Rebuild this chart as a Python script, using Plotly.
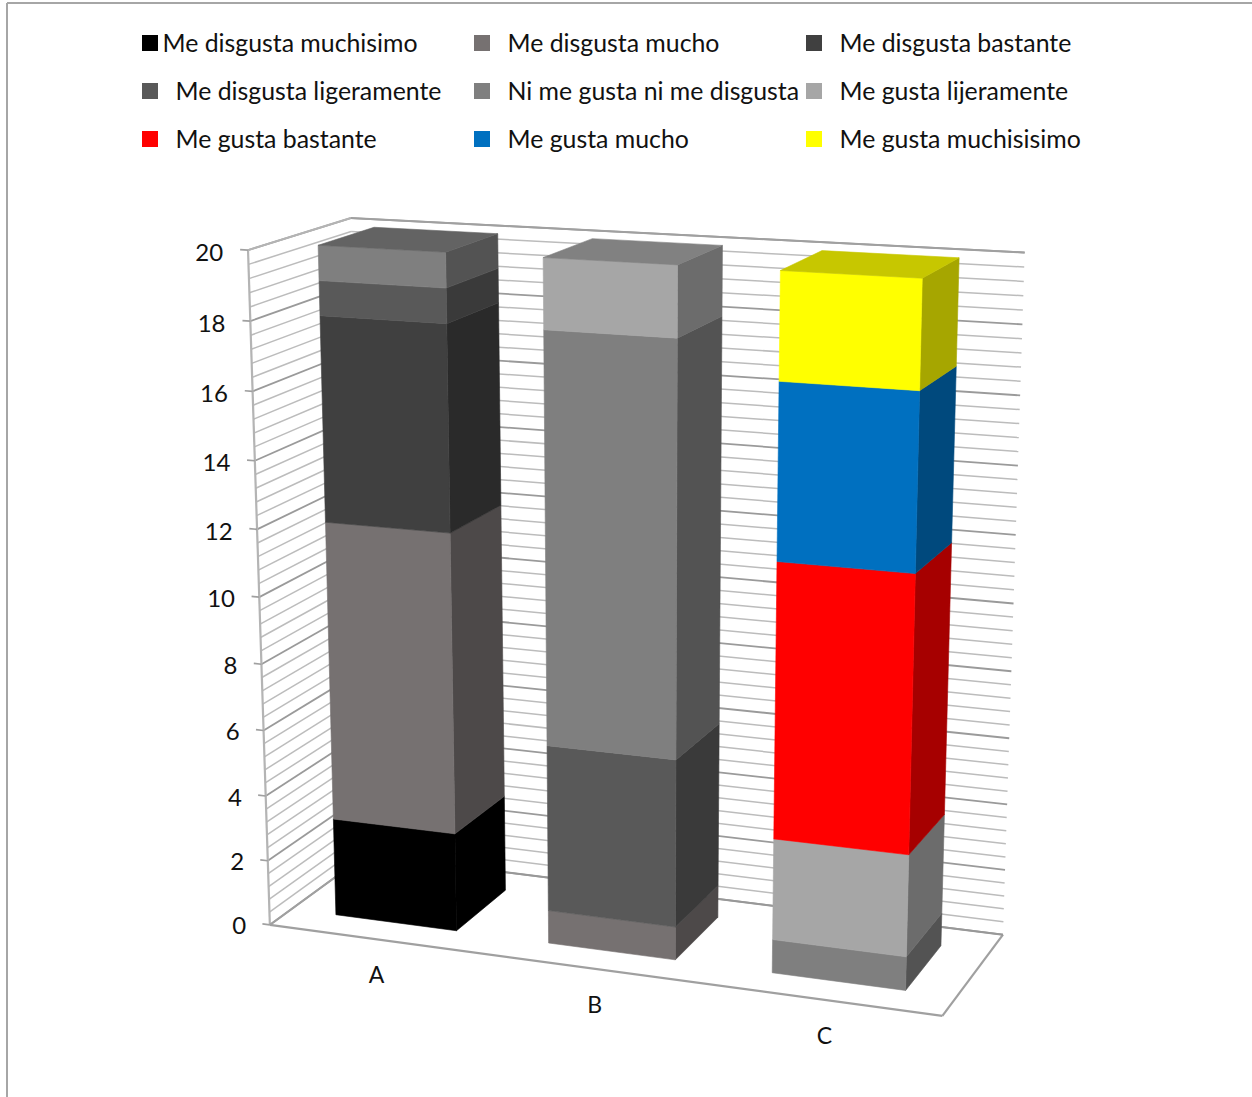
import numpy as np
import plotly.graph_objects as go

# Stacked responses per group, listed bottom to top as (series index, count)
categories = ["A", "B", "C"]
series_names = [
    "Me disgusta muchisimo", "Me disgusta mucho", "Me disgusta bastante",
    "Me disgusta ligeramente", "Ni me gusta ni me disgusta", "Me gusta lijeramente",
    "Me gusta bastante", "Me gusta mucho", "Me gusta muchisisimo",
]
series_colors = [
    "#000000", "#767171", "#404040",
    "#595959", "#7f7f7f", "#a6a6a6",
    "#ff0000", "#0070c0", "#ffff00",
]
counts_a = [3, 9, 6, 1, 1, 0, 0, 0, 0]
counts_b = [0, 1, 0, 5, 12, 2, 0, 0, 0]
counts_c = [0, 0, 0, 0, 1, 3, 8, 5, 3]
group_counts = [counts_a, counts_b, counts_c]
value_ticks = [0, 2, 4, 6, 8, 10, 12, 14, 16, 18, 20]
Z_MAX = 20
MINOR_STEP = 0.4

# Perspective camera: world (x, y, z/Z_MAX, 1) to homogeneous page pixels
CAMERA = np.array([
    [6.0311167e+02, 1.1901982e+02, -3.5680151e+01, 2.6986805e+02],
    [1.6115721e+01, -1.6566269e+01, -6.8874360e+02, 9.2488102e+02],
    [-7.3643968e-02, 6.2695744e-02, -5.5769920e-02, 1.0],
])
BAR_HALF_WIDTH = 0.0955
BAR_DEPTH = (0.218, 0.775)
SIDE_SHADE = 0.65
TOP_SHADE = 0.78


def project(x, y, z):
    h = CAMERA @ np.array([x, y, z / Z_MAX, 1.0])
    return h[0] / h[2], h[1] / h[2]


def shade(color, factor):
    r, g, b = (int(color[i:i + 2], 16) for i in (1, 3, 5))
    return f"rgb({r * factor:.0f},{g * factor:.0f},{b * factor:.0f})"


fig = go.Figure()


def add_line(p0, p1, color, width):
    a, b = project(*p0), project(*p1)
    fig.add_trace(go.Scatter(x=[a[0], b[0]], y=[a[1], b[1]], mode="lines",
                             line=dict(color=color, width=width),
                             hoverinfo="skip", showlegend=False))


def add_face(corners, color):
    pts = [project(*c) for c in corners]
    xs = [p[0] for p in pts] + [pts[0][0]]
    ys = [p[1] for p in pts] + [pts[0][1]]
    fig.add_trace(go.Scatter(x=xs, y=ys, mode="lines", fill="toself", fillcolor=color,
                             line=dict(color=color, width=0.6),
                             hoverinfo="skip", showlegend=False))


# Wall gridlines, every fifth one stronger
for k in range(int(Z_MAX / MINOR_STEP) + 1):
    z = k * MINOR_STEP
    major = k % 5 == 0
    color = "#9a9a9a" if major else "#bcbcbc"
    width = 1.8 if major else 1.5
    add_line((0, 1, z), (1, 1, z), color, width)
    add_line((0, 0, z), (0, 1, z), color, width)

# Frame of the walls and the floor
FRAME = "#b4b4b4"
add_line((0, 0, 0), (0, 0, Z_MAX), FRAME, 2.2)
add_line((0, 0, Z_MAX), (0, 1, Z_MAX), FRAME, 2)
add_line((0, 1, Z_MAX), (1, 1, Z_MAX), "#a0a0a0", 2)
add_line((0, 0, 0), (1, 0, 0), "#a0a0a0", 2.2)
add_line((1, 0, 0), (1, 1, 0), "#a0a0a0", 2.2)
add_line((0, 1, 0), (1, 1, 0), "#989898", 2)
add_line((0, 0, 0), (0, 1, 0), "#a0a0a0", 2)

# Tick marks on the value axis
for v in value_ticks:
    add_line((-0.012, 0, v), (0, 0, v), "#a0a0a0", 1.6)

# Stacked columns
for i, counts in enumerate(group_counts):
    xc = (i + 0.5) / len(categories)
    x0, x1 = xc - BAR_HALF_WIDTH, xc + BAR_HALF_WIDTH
    y0, y1 = BAR_DEPTH
    base = 0
    for s, n in enumerate(counts):
        if n == 0:
            continue
        top = base + n
        c = series_colors[s]
        add_face([(x1, y0, base), (x1, y1, base), (x1, y1, top), (x1, y0, top)], shade(c, SIDE_SHADE))
        add_face([(x0, y0, base), (x1, y0, base), (x1, y0, top), (x0, y0, top)], c)
        base = top
    add_face([(x0, y0, base), (x1, y0, base), (x1, y1, base), (x0, y1, base)], shade(c, TOP_SHADE))

FONT = "Lato, Carlito, Calibri, sans-serif"
TEXT = "#111111"
TEXT_BASELINE_NUDGE = 3

# Value axis labels
tick_pts = [project(-0.038, 0, v) for v in value_ticks]
fig.add_trace(go.Scatter(x=[p[0] for p in tick_pts], y=[p[1] + 6.5 for p in tick_pts],
                         text=[str(v) for v in value_ticks], mode="text",
                         textposition="middle left",
                         textfont=dict(family=FONT, size=24, color=TEXT),
                         hoverinfo="skip", showlegend=False))

# Category labels under the floor edge
cat_pts = [project((i + 0.5) / len(categories), 0, 0) for i in range(len(categories))]
fig.add_trace(go.Scatter(x=[p[0] + 1.5 for p in cat_pts], y=[p[1] + 38.5 for p in cat_pts],
                         text=categories, mode="text", textposition="middle center",
                         textfont=dict(family=FONT, size=23, color=TEXT),
                         hoverinfo="skip", showlegend=False))

# Legend laid out by hand in three rows of three
LEGEND_KEY_X = [150, 482, 814]
LEGEND_TEXT_X = [175.5, 507.5, 839.5]
LEGEND_ROW_Y = [43, 91, 139]
key_x, key_y, text_x, text_y = [], [], [], []
for idx in range(len(series_names)):
    row, col = idx // 3, idx % 3
    key_x.append(LEGEND_KEY_X[col])
    key_y.append(LEGEND_ROW_Y[row])
    text_x.append(LEGEND_TEXT_X[col] - (13 if idx == 0 else 0))
    text_y.append(LEGEND_ROW_Y[row] + TEXT_BASELINE_NUDGE)
fig.add_trace(go.Scatter(x=key_x, y=key_y, mode="markers",
                         marker=dict(symbol="square", size=16, color=series_colors, line=dict(width=0)),
                         hoverinfo="skip", showlegend=False))
fig.add_trace(go.Scatter(x=text_x, y=text_y, mode="text", text=series_names,
                         textposition="middle right",
                         textfont=dict(family=FONT, size=24.85, color=TEXT),
                         hoverinfo="skip", showlegend=False))

fig.update_layout(
    width=1252, height=1097,
    margin=dict(l=0, r=0, t=0, b=0),
    paper_bgcolor="white", plot_bgcolor="white",
    xaxis=dict(range=[0, 1252], visible=False, fixedrange=True),
    yaxis=dict(range=[1097, 0], visible=False, fixedrange=True),
    shapes=[
        dict(type="line", xref="x", yref="y", x0=7, y0=3, x1=1252, y1=3,
             line=dict(color="#a6a6a6", width=2)),
        dict(type="line", xref="x", yref="y", x0=7, y0=3, x1=7, y1=1097,
             line=dict(color="#a6a6a6", width=2)),
    ],
)
fig.write_html("out.html")
